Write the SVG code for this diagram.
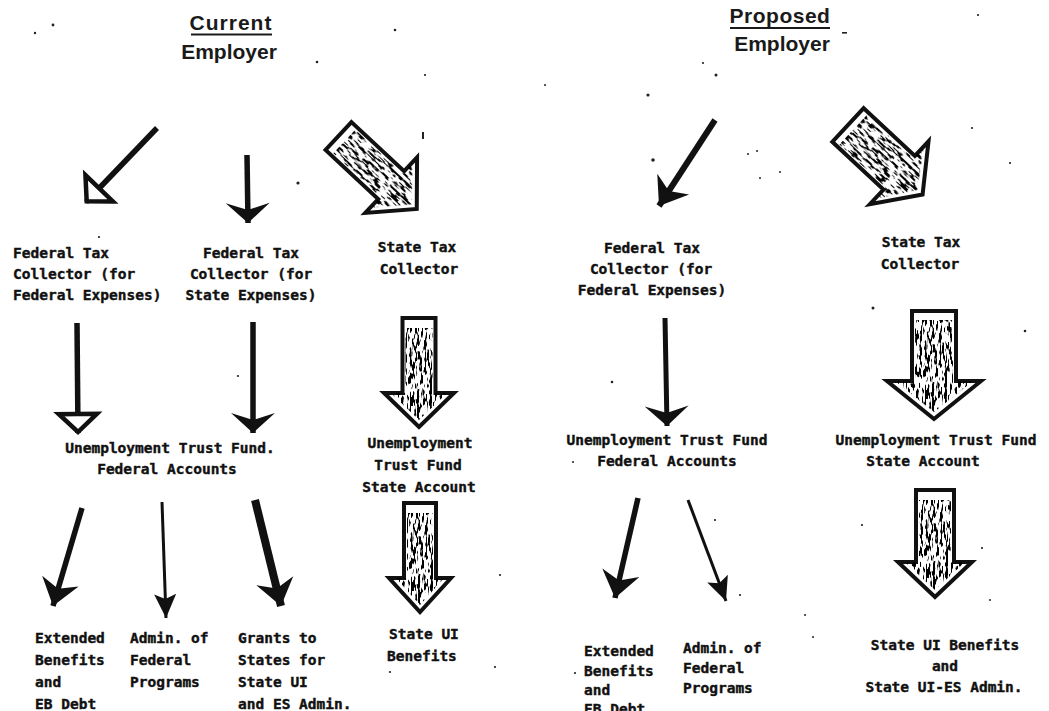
<svg xmlns="http://www.w3.org/2000/svg" width="1049" height="711" viewBox="0 0 1049 711">
  <style>
    .ttl { font-family: "Liberation Sans", Arial, sans-serif; font-weight: bold; font-size: 21px; fill: #1a1a1a; text-anchor: middle; }
    .lbl { font-family: "DejaVu Sans Mono", "Liberation Mono", monospace; font-weight: bold; font-size: 14.5px; fill: #111; stroke: #111; stroke-width: 0.4; }
    .c { text-anchor: middle; }
    .rule { stroke: #1a1a1a; stroke-width: 2; }
    .wide { fill: #fff; stroke: #111; stroke-width: 4; stroke-linejoin: miter; }
    .grain { fill: #000; }
    .ln { fill: none; stroke: #111; stroke-linecap: butt; }
    .speck { fill: #222; }
  </style>
  <defs>
    <!-- speckled fill used inside the wide "state" arrows -->
    <filter id="grain" x="-5%" y="-5%" width="110%" height="110%" color-interpolation-filters="sRGB">
      <feTurbulence type="fractalNoise" baseFrequency="0.09 0.4" numOctaves="2" seed="7" result="n"/>
      <feColorMatrix in="n" type="matrix" values="0 0 0 0 0  0 0 0 0 0  0 0 0 0 0  14 0 0 0 -7.0" result="m"/>
      <feComposite in="m" in2="SourceAlpha" operator="in"/>
    </filter>
    <!-- arrowheads -->
    <marker id="hv" viewBox="0 0 24 44" refX="21" refY="22" markerWidth="24" markerHeight="44" markerUnits="userSpaceOnUse" orient="auto" overflow="visible">
      <path d="M2,3 L20,22 L2,41 Z" fill="#fff" stroke="#111" stroke-width="4.5"/>
    </marker>
    <marker id="cv" viewBox="0 0 20 44" refX="20" refY="22" markerWidth="20" markerHeight="44" markerUnits="userSpaceOnUse" orient="auto" overflow="visible">
      <path d="M0,0 L20,22 L0,44 L7,22 Z" fill="#111"/>
    </marker>
    <marker id="cm" viewBox="0 0 26 38" refX="26" refY="19" markerWidth="26" markerHeight="38" markerUnits="userSpaceOnUse" orient="auto" overflow="visible">
      <path d="M0,0 L26,19 L0,38 L8,19 Z" fill="#111"/>
    </marker>
    <marker id="cs" viewBox="0 0 24 22" refX="24" refY="11" markerWidth="24" markerHeight="22" markerUnits="userSpaceOnUse" orient="auto" overflow="visible">
      <path d="M0,0 L24,11 L0,22 L5,11 Z" fill="#111"/>
    </marker>
  </defs>

  <rect width="1049" height="711" fill="#fff"/>

  <!-- ===== Current system ===== -->
  <g id="cur-employer">
    <text class="ttl" x="231" y="30" letter-spacing="1">Current</text>
    <line class="rule" x1="191" y1="34.5" x2="272" y2="34.5"/>
    <text class="ttl" x="229" y="59">Employer</text>
  </g>

  <g id="cur-fed-collector-fed">
    <text class="lbl" x="13" y="258">Federal Tax</text>
    <text class="lbl" x="13" y="279">Collector (for</text>
    <text class="lbl" x="13" y="300">Federal Expenses)</text>
  </g>

  <g id="cur-fed-collector-state">
    <text class="lbl c" x="251" y="258">Federal Tax</text>
    <text class="lbl c" x="251" y="279">Collector (for</text>
    <text class="lbl c" x="251" y="300">State Expenses)</text>
  </g>

  <g id="cur-state-collector">
    <text class="lbl c" x="417" y="252">State Tax</text>
    <text class="lbl c" x="419" y="274">Collector</text>
  </g>

  <g id="cur-utf-federal">
    <text class="lbl c" x="170" y="453">Unemployment Trust Fund.</text>
    <text class="lbl c" x="167" y="474">Federal Accounts</text>
  </g>

  <g id="cur-utf-state">
    <text class="lbl c" x="420" y="448">Unemployment</text>
    <text class="lbl c" x="418" y="470">Trust Fund</text>
    <text class="lbl c" x="419" y="492">State Account</text>
  </g>

  <g id="cur-extended">
    <text class="lbl" x="35" y="643">Extended</text>
    <text class="lbl" x="35" y="665">Benefits</text>
    <text class="lbl" x="35" y="687">and</text>
    <text class="lbl" x="35" y="709">EB Debt</text>
  </g>

  <g id="cur-admin">
    <text class="lbl" x="130" y="643">Admin. of</text>
    <text class="lbl" x="130" y="665">Federal</text>
    <text class="lbl" x="130" y="687">Programs</text>
  </g>

  <g id="cur-grants">
    <text class="lbl" x="238" y="643">Grants to</text>
    <text class="lbl" x="238" y="665">States for</text>
    <text class="lbl" x="238" y="687">State UI</text>
    <text class="lbl" x="238" y="709">and ES Admin.</text>
  </g>

  <g id="cur-state-benefits">
    <text class="lbl" x="389" y="639">State UI</text>
    <text class="lbl" x="387" y="661">Benefits</text>
  </g>

  <!-- ===== Proposed system ===== -->
  <g id="pro-employer">
    <text class="ttl" x="780" y="23" letter-spacing="0.5">Proposed</text>
    <line class="rule" x1="730" y1="28" x2="830" y2="28"/>
    <text class="ttl" x="782" y="51">Employer</text>
  </g>

  <g id="pro-fed-collector">
    <text class="lbl c" x="652" y="253">Federal Tax</text>
    <text class="lbl c" x="651" y="274">Collector (for</text>
    <text class="lbl c" x="652" y="295">Federal Expenses)</text>
  </g>

  <g id="pro-state-collector">
    <text class="lbl c" x="921" y="247">State Tax</text>
    <text class="lbl c" x="920" y="269">Collector</text>
  </g>

  <g id="pro-utf-federal">
    <text class="lbl c" x="667" y="445">Unemployment Trust Fund</text>
    <text class="lbl c" x="667" y="466">Federal Accounts</text>
  </g>

  <g id="pro-utf-state">
    <text class="lbl c" x="936" y="445">Unemployment Trust Fund</text>
    <text class="lbl c" x="923" y="466">State Account</text>
  </g>

  <g id="pro-extended">
    <text class="lbl" x="584" y="656">Extended</text>
    <text class="lbl" x="584" y="676">Benefits</text>
    <text class="lbl" x="584" y="695">and</text>
    <text class="lbl" x="584" y="714">EB Debt</text>
  </g>

  <g id="pro-admin">
    <text class="lbl" x="683" y="653">Admin. of</text>
    <text class="lbl" x="683" y="673">Federal</text>
    <text class="lbl" x="683" y="693">Programs</text>
  </g>

  <g id="pro-state-benefits">
    <text class="lbl c" x="945" y="650">State UI Benefits</text>
    <text class="lbl c" x="945" y="671">and</text>
    <text class="lbl c" x="944" y="692">State UI-ES Admin.</text>
  </g>

  <!-- ===== Connectors ===== -->
  <g id="connectors">
    <!-- thin federal flows -->
    <path class="ln" d="M157,128 L86,202" stroke-width="5.5" marker-end="url(#hv)"/>
    <path class="ln" d="M247,155 L248,223" stroke-width="5.5" marker-end="url(#cv)"/>
    <path class="ln" d="M77,323 L78,433" stroke-width="5.5" marker-end="url(#hv)"/>
    <path class="ln" d="M253,322 L253,433" stroke-width="5.5" marker-end="url(#cv)"/>
    <path class="ln" d="M82,508 L53,606" stroke-width="5.5" marker-end="url(#cm)"/>
    <path class="ln" d="M162,502 L166,618" stroke-width="3" marker-end="url(#cs)"/>
    <path class="ln" d="M255,500 L281,606" stroke-width="8" marker-end="url(#cm)"/>
    <path class="ln" d="M715,120 L659,206" stroke-width="6" marker-end="url(#cm)"/>
    <path class="ln" d="M665,318 L667,426" stroke-width="5" marker-end="url(#cv)"/>
    <path class="ln" d="M638,498 L615,598" stroke-width="5.5" marker-end="url(#cm)"/>
    <path class="ln" d="M688,500 L726,601" stroke-width="3" marker-end="url(#cs)"/>

    <!-- wide speckled state flows (drawn pointing +x, then rotated) -->
    <g transform="translate(338.5,136) rotate(43)">
      <polygon class="wide" points="0,-19 72,-19 72,-38 107,0 72,38 72,19 0,19"/>
      <polygon class="grain" filter="url(#grain)" points="8,-16 72,-16 72,-31 100,0 72,31 72,16 8,16"/>
    </g>
    <g transform="translate(419,318) rotate(90)">
      <polygon class="wide" points="0,-16.5 75,-16.5 75,-35 109,0 75,35 75,16.5 0,16.5"/>
      <polygon class="grain" filter="url(#grain)" points="10,-13.5 75,-13.5 75,-28 102,0 75,28 75,13.5 10,13.5"/>
    </g>
    <g transform="translate(420,503) rotate(90)">
      <polygon class="wide" points="0,-16 75,-16 75,-31 109,0 75,31 75,16 0,16"/>
      <polygon class="grain" filter="url(#grain)" points="10,-13 75,-13 75,-24 102,0 75,24 75,13 10,13"/>
    </g>
    <g transform="translate(848,125) rotate(43)">
      <polygon class="wide" points="0,-23 70,-23 70,-43 102,0 70,43 70,23 0,23"/>
      <polygon class="grain" filter="url(#grain)" points="7,-20 70,-20 70,-36 95,0 70,36 70,20 7,20"/>
    </g>
    <g transform="translate(934,311) rotate(90)">
      <polygon class="wide" points="0,-22 70,-22 70,-47 108,0 70,47 70,22 0,22"/>
      <polygon class="grain" filter="url(#grain)" points="9,-19 70,-19 70,-39 101,0 70,39 70,19 9,19"/>
    </g>
    <g transform="translate(935,490) rotate(90)">
      <polygon class="wide" points="0,-19 72,-19 72,-37 107,0 72,37 72,19 0,19"/>
      <polygon class="grain" filter="url(#grain)" points="10,-16 72,-16 72,-30 100,0 72,30 72,16 10,16"/>
    </g>
  </g>

  <!-- stray print specks -->
  <g id="specks">
    <circle class="speck" cx="35" cy="33" r="1.2"/>
    <circle class="speck" cx="53" cy="25" r="1.4"/>
    <circle class="speck" cx="395" cy="30" r="1.3"/>
    <circle class="speck" cx="317" cy="62" r="1.3"/>
    <circle class="speck" cx="425" cy="75" r="1.1"/>
    <circle class="speck" cx="298" cy="183" r="1.6"/>
    <rect class="speck" x="422" y="132" width="2" height="7"/>
    <circle class="speck" cx="99" cy="237" r="1.1"/>
    <circle class="speck" cx="978" cy="15" r="1.1"/>
    <circle class="speck" cx="703" cy="63" r="1.1"/>
    <circle class="speck" cx="716" cy="75" r="1.5"/>
    <circle class="speck" cx="545" cy="85" r="1"/>
    <circle class="speck" cx="648" cy="95" r="1.6"/>
    <circle class="speck" cx="653" cy="160" r="1.8"/>
    <circle class="speck" cx="972" cy="128" r="1.1"/>
    <circle class="speck" cx="1010" cy="163" r="1.1"/>
    <circle class="speck" cx="748" cy="154" r="1"/>
    <circle class="speck" cx="757" cy="151" r="1"/>
    <circle class="speck" cx="780" cy="172" r="1"/>
    <circle class="speck" cx="760" cy="178" r="1"/>
    <rect class="speck" x="842" y="32" width="5" height="1.6"/>
    <circle class="speck" cx="238" cy="376" r="1.1"/>
    <circle class="speck" cx="612" cy="382" r="1.3"/>
    <circle class="speck" cx="873" cy="308" r="1.5"/>
    <circle class="speck" cx="1025" cy="331" r="1.3"/>
    <circle class="speck" cx="573" cy="462" r="1"/>
    <circle class="speck" cx="500" cy="575" r="1.1"/>
    <circle class="speck" cx="390" cy="672" r="1.1"/>
    <circle class="speck" cx="495" cy="667" r="1.1"/>
    <circle class="speck" cx="715" cy="520" r="1.1"/>
    <circle class="speck" cx="740" cy="595" r="1.1"/>
    <circle class="speck" cx="862" cy="525" r="1.1"/>
    <circle class="speck" cx="982" cy="548" r="1.1"/>
    <circle class="speck" cx="990" cy="600" r="1"/>
    <circle class="speck" cx="805" cy="615" r="1"/>
    <circle class="speck" cx="813" cy="637" r="1"/>
    <circle class="speck" cx="575" cy="673" r="1.1"/>
  </g>
</svg>
